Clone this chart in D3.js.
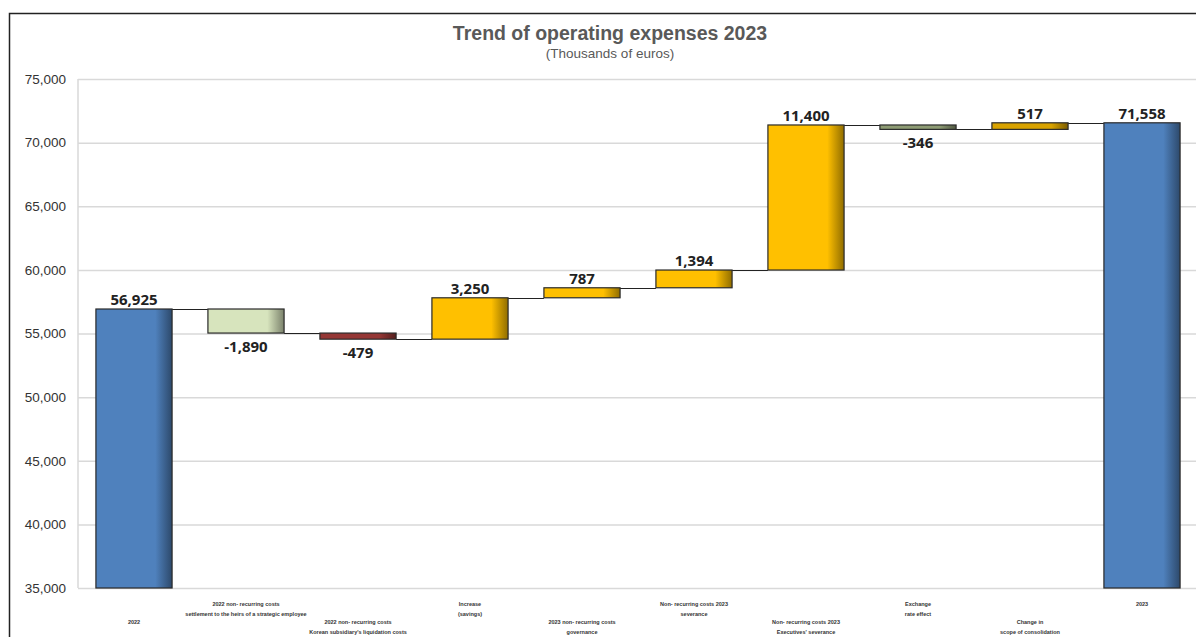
<!DOCTYPE html>
<html>
<head>
<meta charset="utf-8">
<script src="https://cdn.jsdelivr.net/npm/d3@7"></script>
<style>
  html, body { margin: 0; padding: 0; background: #fff; }
  svg { display: block; }
</style>
</head>
<body>
<svg id="chart" width="1196" height="637"></svg>
<script>
document.addEventListener('DOMContentLoaded', function() {
  // Chart data
  const categories = [
    ["2022"],
    ["2022 non- recurring costs", "settlement to the heirs of a strategic employee"],
    ["2022 non- recurring costs", "Korean subsidiary's liquidation costs"],
    ["Increase", "(savings)"],
    ["2023 non- recurring costs", "governance"],
    ["Non- recurring costs 2023", "severance"],
    ["Non- recurring costs 2023", "Executives' severance"],
    ["Exchange", "rate effect"],
    ["Change in", "scope of consolidation"],
    ["2023"]
  ];
  const values = [56925, -1890, -479, 3250, 787, 1394, 11400, -346, 517, 71558];
  const isTotal = [true, false, false, false, false, false, false, false, false, true];
  const yTicks = [35000, 40000, 45000, 50000, 55000, 60000, 65000, 70000, 75000];

  // bar colours (style only)
  const barColors = ["#4F81BD", "#D7E4BD", "#953735", "#FFC000", "#FFC000",
                     "#FFC000", "#FFC000", "#8E9C74", "#D9A300", "#4F81BD"];

  const fmt = v => d3.format(',')(v).replace('\u2212', '-');

  const svg = d3.select("#chart");
  const left = 78, right = 1198, top = 79, bottom = 588;

  // Build waterfall segments
  let running = 0;
  const bars = values.map((v, i) => {
    let start, end;
    if (isTotal[i]) { start = yTicks[0]; end = v; running = v; }
    else { start = running; end = running + v; running = end; }
    return { i, key: categories[i].join(" "), value: v, start, end, total: isTotal[i] };
  });

  const x = d3.scaleBand()
    .domain(bars.map(d => d.key))
    .range([left, right])
    .paddingInner(0.32)
    .paddingOuter(0.16);

  const y = d3.scaleLinear()
    .domain([yTicks[0], yTicks[yTicks.length - 1]])
    .range([bottom, top]);

  // outer frame
  svg.append('rect')
    .attr('x', 9.5).attr('y', 13.5)
    .attr('width', 1300).attr('height', 700)
    .attr('fill', 'none')
    .attr('stroke', '#222')
    .attr('stroke-width', 1.5);

  // title
  svg.append('text')
    .attr('x', 610).attr('y', 40)
    .attr('text-anchor', 'middle')
    .attr('font-family', 'Liberation Sans, Arial, sans-serif')
    .attr('font-weight', 'bold')
    .attr('font-size', 19.5)
    .attr('fill', '#595959')
    .text('Trend of operating expenses 2023');
  svg.append('text')
    .attr('x', 610).attr('y', 58)
    .attr('text-anchor', 'middle')
    .attr('font-family', 'Liberation Sans, Arial, sans-serif')
    .attr('font-size', 13.5)
    .attr('fill', '#595959')
    .text('(Thousands of euros)');

  // gradients: flat colour darkening at right edge
  const defs = svg.append('defs');
  const uniq = Array.from(new Set(barColors));
  uniq.forEach((c, k) => {
    const g = defs.append('linearGradient')
      .attr('id', 'grad' + k)
      .attr('x1', '0%').attr('x2', '100%').attr('y1', '0%').attr('y2', '0%');
    g.append('stop').attr('offset', '0%').attr('stop-color', c);
    g.append('stop').attr('offset', '78%').attr('stop-color', c);
    g.append('stop').attr('offset', '100%').attr('stop-color', d3.color(c).darker(1.6));
  });
  const gradFor = c => 'url(#grad' + uniq.indexOf(c) + ')';

  // grid
  svg.append('g')
    .attr('transform', `translate(${left},0)`)
    .call(d3.axisLeft(y).tickValues(yTicks).tickSize(-(1196 - left)).tickFormat(''))
    .call(g => g.select('.domain').remove())
    .call(g => g.selectAll('line').attr('stroke', '#D9D9D9').attr('stroke-width', 1.5));
  svg.append('line')
    .attr('x1', left).attr('x2', left)
    .attr('y1', top).attr('y2', bottom)
    .attr('stroke', '#D9D9D9').attr('stroke-width', 1.5);

  // y axis labels
  svg.append('g')
    .attr('transform', `translate(${left},0)`)
    .call(d3.axisLeft(y).tickValues(yTicks).tickSize(0).tickPadding(12).tickFormat(d3.format(',')))
    .call(g => g.select('.domain').remove())
    .call(g => g.selectAll('text')
      .attr('font-family', 'Liberation Sans, Arial, sans-serif')
      .attr('font-size', 13.5)
      .attr('fill', '#333'));

  // connectors
  svg.append('g')
    .selectAll('line')
    .data(bars.slice(0, -1))
    .join('line')
    .attr('x1', d => x(d.key) + x.bandwidth())
    .attr('x2', d => x(bars[d.i + 1].key))
    .attr('y1', d => Math.round(y(d.end)) + 0.5)
    .attr('y2', d => Math.round(y(d.end)) + 0.5)
    .attr('stroke', '#222')
    .attr('stroke-width', 1.2);

  // bars
  svg.append('g')
    .selectAll('rect')
    .data(bars)
    .join('rect')
    .attr('x', d => x(d.key))
    .attr('width', x.bandwidth())
    .attr('y', d => y(Math.max(d.start, d.end)))
    .attr('height', d => Math.abs(y(d.start) - y(d.end)))
    .attr('fill', d => gradFor(barColors[d.i]))
    .attr('stroke', '#2a2a2a')
    .attr('stroke-width', 1.2);

  // value labels
  svg.append('g')
    .selectAll('text')
    .data(bars)
    .join('text')
    .attr('x', d => x(d.key) + x.bandwidth() / 2)
    .attr('y', d => d.value >= 0 ? y(Math.max(d.start, d.end)) - 4 : y(Math.min(d.start, d.end)) + 19)
    .attr('text-anchor', 'middle')
    .attr('font-family', 'Open Sans, sans-serif')
    .attr('font-weight', 'bold')
    .attr('font-size', 15)
    .attr('fill', '#222')
    .text(d => fmt(d.value));

  // category labels, staggered in two rows
  const cat = svg.append('g')
    .selectAll('text')
    .data(bars)
    .join('text')
    .attr('text-anchor', 'middle')
    .attr('font-family', 'Liberation Sans, Arial, sans-serif')
    .attr('font-weight', 'bold')
    .attr('font-size', 5.5)
    .attr('fill', '#333')
    .attr('transform', d => `translate(${x(d.key) + x.bandwidth() / 2},${d.i % 2 ? 606 : 624})`);
  cat.selectAll('tspan')
    .data(d => categories[d.i])
    .join('tspan')
    .attr('x', 0)
    .attr('dy', (t, j) => j ? 9.5 : 0)
    .text(t => t);
});
</script>
</body>
</html>
